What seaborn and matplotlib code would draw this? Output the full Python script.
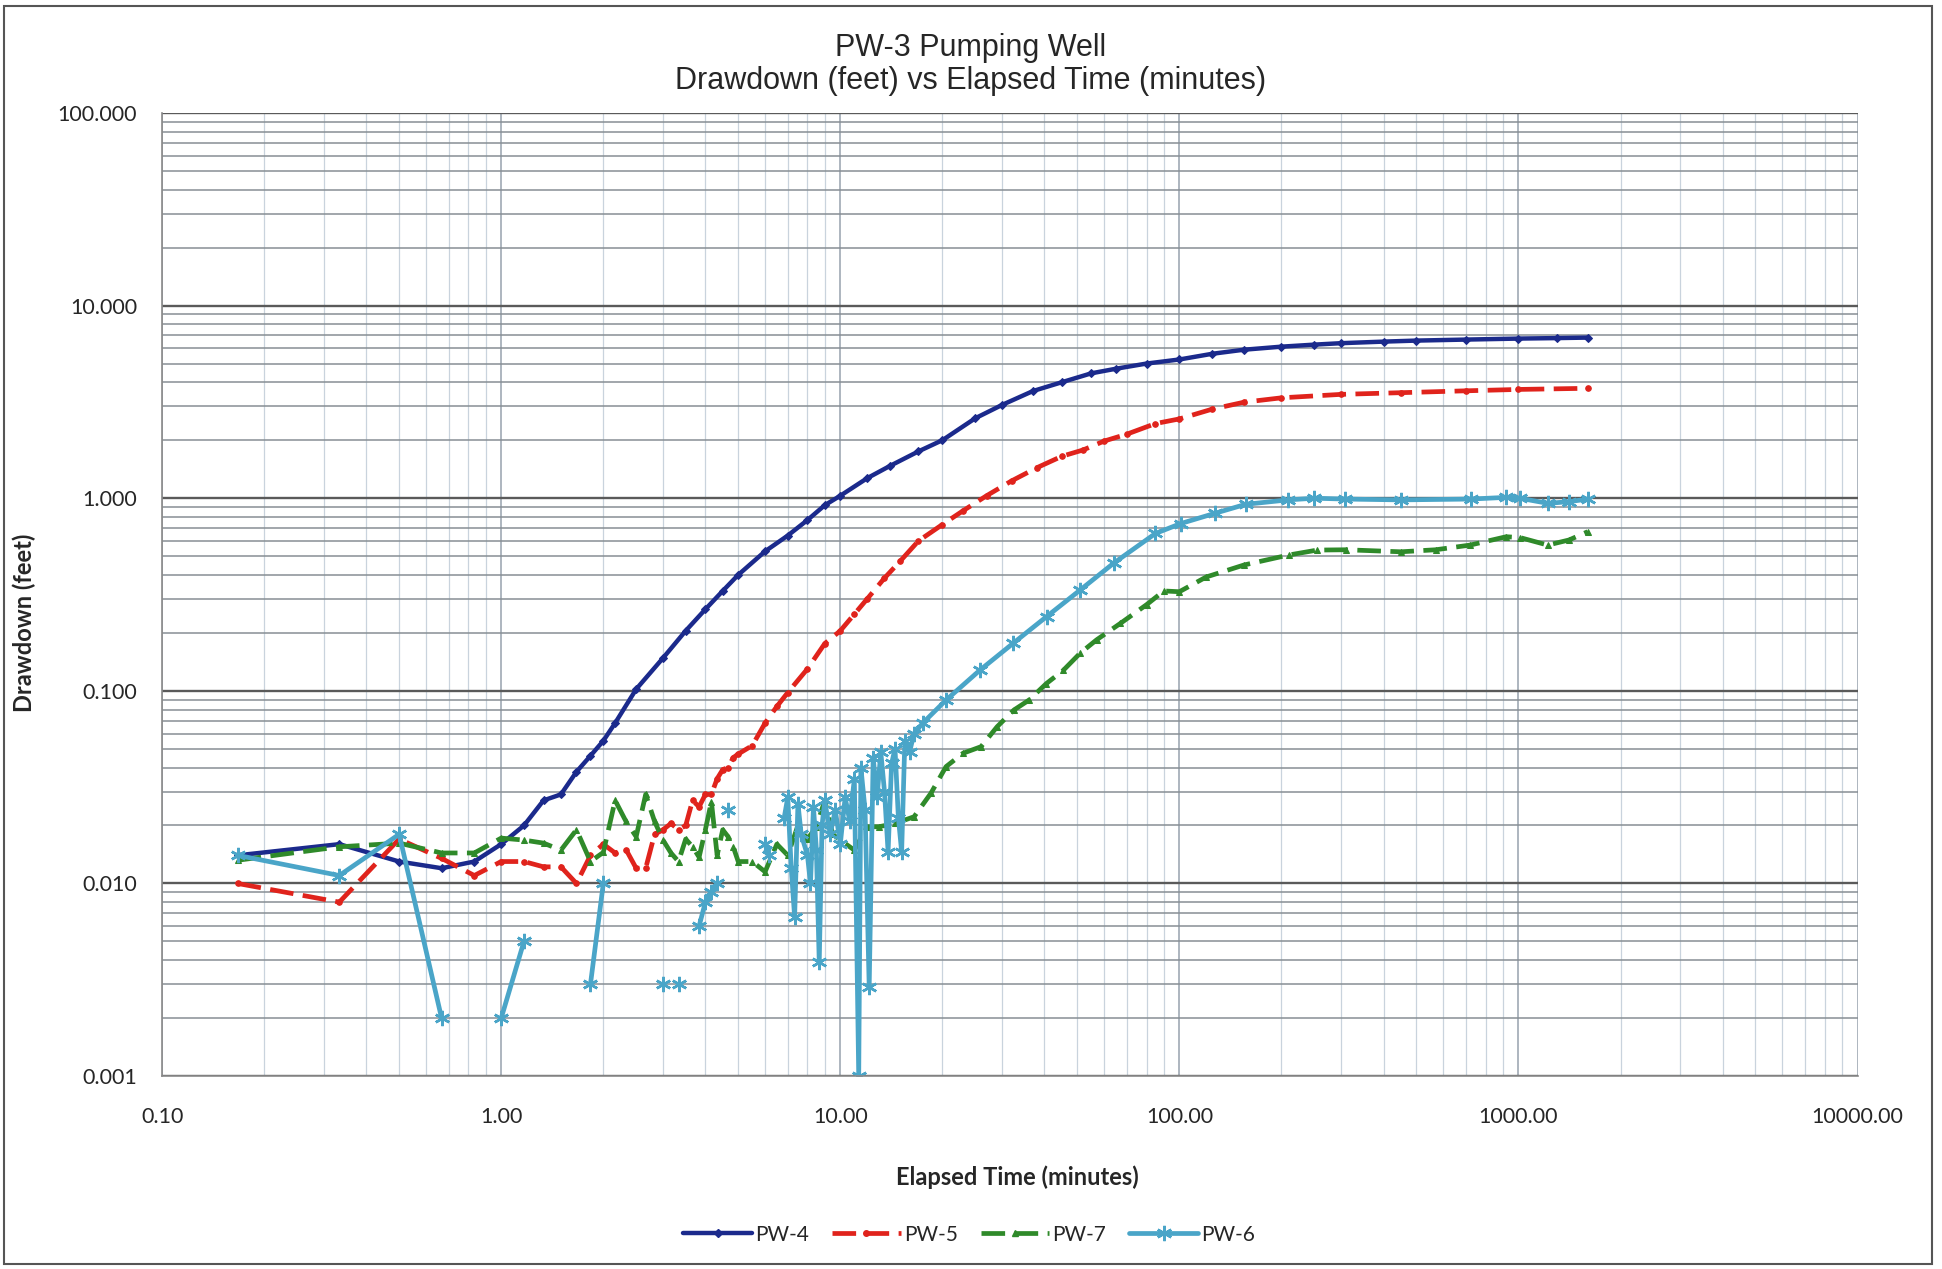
import numpy as np
import pandas as pd
import matplotlib
matplotlib.use('Agg')
import matplotlib.pyplot as plt
import seaborn as sns
from matplotlib.lines import Line2D
from matplotlib.patches import Rectangle
from matplotlib.ticker import LogLocator, FuncFormatter, NullFormatter

# Elapsed time (minutes) and drawdown (feet)
# (a drawdown of 0 = no positive reading -> gap on the log axis)
t_pw4 = [0.167, 0.333, 0.5, 0.667, 0.833, 1.0, 1.167, 1.333, 1.5, 1.667, 1.833, 2.0,
         2.167, 2.5, 3.0, 3.5, 4.0, 4.5, 5.0, 6.0, 7.0, 8.0, 9.0, 10.0, 12.0, 14.0,
         17.0, 20.0, 25.0, 30.0, 37.0, 45.0, 55.0, 65.0, 80.0, 100.0, 125.0, 155.0,
         200.0, 250.0, 300.0, 400.0, 500.0, 700.0, 1000.0, 1300.0, 1600.0]
dd_pw4 = [0.014, 0.016, 0.013, 0.012, 0.013, 0.016, 0.020, 0.027, 0.029, 0.038, 0.046, 0.055,
          0.068, 0.102, 0.148, 0.205, 0.265, 0.33, 0.40, 0.53, 0.64, 0.77, 0.92, 1.03, 1.27, 1.47,
          1.75, 2.0, 2.6, 3.05, 3.6, 4.0, 4.45, 4.7, 5.0, 5.25, 5.62, 5.9,
          6.12, 6.27, 6.38, 6.5, 6.58, 6.66, 6.74, 6.78, 6.82]

t_pw5 = [0.167, 0.333, 0.5, 0.667, 0.833, 1.0, 1.167, 1.333, 1.5, 1.667, 1.833, 2.0,
         2.167, 2.333, 2.5, 2.667, 2.833, 3.0, 3.167, 3.333, 3.5, 3.667, 3.833, 4.0,
         4.167, 4.333, 4.5, 4.667, 4.833, 5.0, 5.5, 6.0, 6.5, 7.0, 8.0, 9.0, 10.0, 11.0,
         12.0, 13.5, 15.0, 17.0, 20.0, 23.0, 27.0, 32.0, 38.0, 45.0, 52.0, 60.0, 70.0,
         85.0, 100.0, 125.0, 155.0, 200.0, 300.0, 450.0, 700.0, 1000.0, 1600.0]
dd_pw5 = [0.010, 0.008, 0.017, 0.0135, 0.011, 0.013, 0.013, 0.0122, 0.0122, 0.010, 0.014, 0.016,
          0.0144, 0.015, 0.012, 0.012, 0.018, 0.019, 0.0205, 0.019, 0.020, 0.027, 0.025, 0.029,
          0.029, 0.035, 0.039, 0.040, 0.045, 0.047, 0.052, 0.068, 0.083, 0.098, 0.13, 0.176, 0.205, 0.25,
          0.30, 0.385, 0.47, 0.60, 0.73, 0.86, 1.03, 1.23, 1.44, 1.65, 1.78, 1.98, 2.15,
          2.44, 2.58, 2.9, 3.15, 3.32, 3.46, 3.53, 3.61, 3.67, 3.72]

t_pw7 = [0.167, 0.333, 0.5, 0.667, 0.833, 1.0, 1.167, 1.333, 1.5, 1.667, 1.833, 2.0,
         2.167, 2.333, 2.5, 2.667, 2.833, 3.0, 3.167, 3.333, 3.5, 3.667, 3.833, 4.0,
         4.167, 4.333, 4.5, 4.667, 4.833, 5.0, 5.5, 6.0, 6.5, 7.0, 7.5, 8.0, 8.5, 9.0,
         9.5, 10.0, 11.0, 12.0, 13.0, 14.5, 16.5, 18.5, 20.5, 23.0, 26.0, 29.0, 32.5,
         36.0, 40.5, 45.5, 51.0, 57.0, 67.0, 80.0, 90.0, 100.0, 120.0, 155.0, 210.0,
         255.0, 310.0, 450.0, 570.0, 720.0, 920.0, 1010.0, 1220.0, 1410.0, 1600.0]
dd_pw7 = [0.0132, 0.0155, 0.0162, 0.0144, 0.0144, 0.0172, 0.0168, 0.0162, 0.0149, 0.019, 0.013, 0.0145,
          0.027, 0.021, 0.0175, 0.029, 0.021, 0.0168, 0.0144, 0.013, 0.017, 0.0155, 0.0137, 0.019,
          0.0266, 0.014, 0.019, 0.0175, 0.0155, 0.013, 0.013, 0.0115, 0.016, 0.014, 0.020, 0.017, 0.0197, 0.027,
          0.018, 0.0168, 0.0149, 0.0197, 0.0197, 0.0205, 0.0222, 0.0294, 0.0404, 0.0474, 0.0513, 0.0651, 0.0795,
          0.0895, 0.109, 0.128, 0.157, 0.184, 0.224, 0.28, 0.33, 0.327, 0.39, 0.45, 0.507,
          0.538, 0.54, 0.527, 0.54, 0.571, 0.631, 0.625, 0.571, 0.607, 0.67]

t_pw6 = [0.167, 0.333, 0.5, 0.667, 0.833, 1.0, 1.167, 1.333, 1.833, 2.0, 2.167, 3.0,
         3.167, 3.333, 3.5, 3.833, 4.0, 4.167, 4.333, 4.5, 4.667, 4.833, 6.0, 6.167,
         6.333, 6.833, 7.0, 7.167, 7.333, 7.5, 7.667, 8.0, 8.167, 8.333, 8.5, 8.667,
         8.833, 9.0, 9.333, 9.667, 10.0, 10.333, 10.667, 11.0, 11.333, 11.5, 11.833,
         12.167, 12.5, 12.833, 13.167, 13.5, 13.833, 14.167, 14.5, 14.833, 15.167, 15.5,
         16.0, 16.5, 17.5, 20.5, 25.8, 32.4, 40.6, 50.9, 64.0, 85.0, 101.0, 127.0, 157.0,
         209.0, 250.0, 307.0, 449.0, 723.0, 918.0, 1009.0, 1222.0, 1410.0, 1606.0]
dd_pw6 = [0.014, 0.011, 0.018, 0.002, 0.0, 0.002, 0.005, 0.0, 0.003, 0.010, 0.0, 0.003,
          0.0, 0.003, 0.0, 0.006, 0.008, 0.009, 0.010, 0.0, 0.024, 0.0, 0.016, 0.014,
          0.0, 0.022, 0.028, 0.012, 0.0067, 0.026, 0.018, 0.014, 0.010, 0.025, 0.015, 0.0039,
          0.020, 0.027, 0.018, 0.024, 0.016, 0.028, 0.021, 0.035, 0.001, 0.040, 0.024,
          0.0029, 0.045, 0.028, 0.048, 0.030, 0.0146, 0.042, 0.050, 0.022, 0.0146, 0.055,
          0.048, 0.060, 0.068, 0.0895, 0.128, 0.177, 0.243, 0.333, 0.46, 0.656, 0.739, 0.834, 0.93,
          0.98, 1.0, 0.99, 0.98, 0.99, 1.01, 1.0, 0.94, 0.96, 0.99]

wells = ['PW-4', 'PW-5', 'PW-7', 'PW-6']
colors = ['#1B2A8C', '#E0231C', '#2F8A2A', '#4AA5C8']


def to_frame(t, dd):
    df = pd.DataFrame({'t': t, 'dd': dd})
    # a non-positive reading can't be drawn on a log axis -> break the line there
    df['seg'] = (df['dd'] <= 0).cumsum()
    return df[df['dd'] > 0]


sns.set_style('white')
plt.rcParams['font.family'] = ['Lato', 'DejaVu Sans']

fig = plt.figure(figsize=(19.42, 12.69), dpi=100)
ax = fig.add_axes([0.0835, 0.152, 0.873, 0.759])
ax.set_xscale('log')
ax.set_yscale('log')

styles = {
    'PW-4': dict(ls='-', lw=3.2, marker='D', ms=4.5),
    'PW-5': dict(ls=(0, (5, 2)), lw=3.4, marker='o', ms=4),
    'PW-7': dict(ls=(0, (5, 2)), lw=3.4, marker='^', ms=5),
    'PW-6': dict(ls='-', lw=3.4, marker=(6, 2, 0), ms=11, mew=1.8),
}
series = {'PW-4': (t_pw4, dd_pw4), 'PW-5': (t_pw5, dd_pw5),
          'PW-7': (t_pw7, dd_pw7), 'PW-6': (t_pw6, dd_pw6)}

for name, col in zip(wells, colors):
    df = to_frame(*series[name])
    sns.lineplot(data=df, x='t', y='dd', units='seg', estimator=None, color=col,
                 mec=col, mfc=col, legend=False, ax=ax, **styles[name])

ax.set_xlim(0.1, 10000)
ax.set_ylim(0.001, 100)
ax.set_xlabel('')
ax.set_ylabel('')

ax.xaxis.set_major_locator(LogLocator(base=10, numticks=20))
ax.yaxis.set_major_locator(LogLocator(base=10, numticks=20))
ax.xaxis.set_minor_locator(LogLocator(base=10, subs=np.arange(2, 10), numticks=60))
ax.yaxis.set_minor_locator(LogLocator(base=10, subs=np.arange(2, 10), numticks=60))
ax.xaxis.set_major_formatter(FuncFormatter(lambda v, p: f'{v:.2f}'))
ax.yaxis.set_major_formatter(FuncFormatter(lambda v, p: f'{v:.3f}'))
ax.xaxis.set_minor_formatter(NullFormatter())
ax.yaxis.set_minor_formatter(NullFormatter())
ax.tick_params(axis='x', which='major', labelsize=15.5, pad=22, length=0)
ax.tick_params(axis='y', which='major', labelsize=15.5, pad=18, length=0)
ax.tick_params(which='minor', length=4, color='#9a9a9a', direction='out')

ax.yaxis.grid(True, which='major', color='#5a5a5a', lw=1.7)
ax.yaxis.grid(True, which='minor', color='#878e94', lw=1.1)
ax.xaxis.grid(True, which='major', color='#97a2ad', lw=1.1)
ax.xaxis.grid(True, which='minor', color='#c9d3dd', lw=0.9)
ax.set_axisbelow(True)
for s in ['top', 'right']:
    ax.spines[s].set_visible(False)
for s in ['left', 'bottom']:
    ax.spines[s].set_color('#8a8a8a')
    ax.spines[s].set_linewidth(1.2)

fig.text(0.5, 0.9622, 'PW-3 Pumping Well', ha='center', va='center', fontsize=22,
         family=['Liberation Sans', 'DejaVu Sans'])
fig.text(0.5, 0.9362, 'Drawdown (feet) vs Elapsed Time (minutes)', ha='center', va='center',
         fontsize=22, family=['Liberation Sans', 'DejaVu Sans'])
fig.text(0.524, 0.0725, 'Elapsed Time (minutes)', ha='center', va='center', fontsize=17,
         fontweight='bold')
fig.text(0.0125, 0.509, 'Drawdown (feet)', ha='center', va='center', rotation=90,
         fontsize=17, fontweight='bold')

handles = [Line2D([], [], color=c, mec=c, mfc=c, **styles[n]) for n, c in zip(wells, colors)]
fig.legend(handles, wells, loc='center', bbox_to_anchor=(0.499, 0.027), ncol=4,
           frameon=False, fontsize=15, handlelength=3.3, columnspacing=1.1, handletextpad=0.15)

# scanned chart area border
fig.patches.append(Rectangle((0.002, 0.004), 0.993, 0.991, transform=fig.transFigure,
                             fill=False, edgecolor='#555555', lw=1.5))

fig.savefig('out.png', dpi=100)
